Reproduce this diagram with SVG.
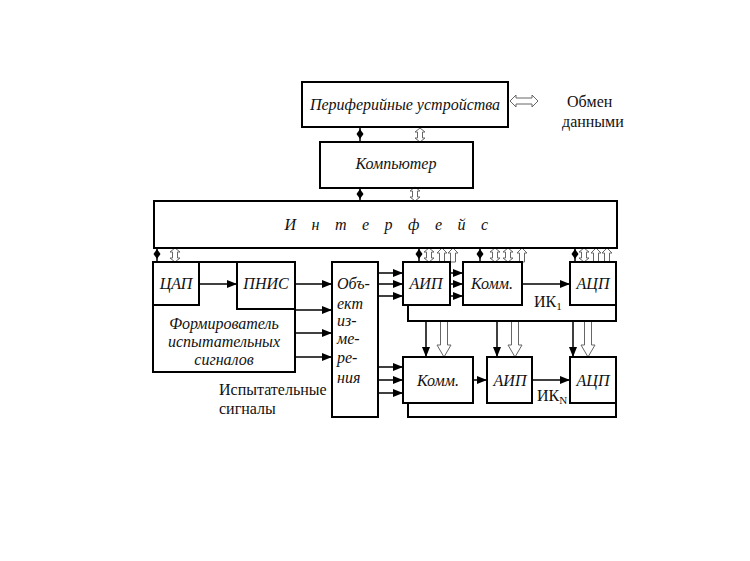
<svg xmlns="http://www.w3.org/2000/svg" width="750" height="561" viewBox="0 0 750 561">
<style>
.b{fill:none;stroke:#000;stroke-width:2}
.t{font-family:'Liberation Serif','Times New Roman','DejaVu Serif',serif;font-style:italic;font-size:16px;fill:#111;text-anchor:middle}
.n{font-family:'Liberation Serif','Times New Roman','DejaVu Serif',serif;font-size:16px;fill:#111}
.l{stroke:#000;stroke-width:1.5;fill:none}
.h{fill:#fff;stroke:#666;stroke-width:1}
.d{fill:#000}
</style>
<defs>
<marker id="a" markerWidth="10" markerHeight="8" refX="9" refY="4" orient="auto" markerUnits="userSpaceOnUse">
<path d="M0,0 L10,4 L0,8 Z" fill="#000"/>
</marker>
<g id="dbl"><path class="h" d="M0,0 L5,4 L2.5,4 L2.5,10 L5,10 L0,14 L-5,10 L-2.5,10 L-2.5,4 L-5,4 Z"/></g>
<g id="up"><path class="h" d="M0,0 L5,5 L2.5,5 L2.5,14 L-2.5,14 L-2.5,5 L-5,5 Z"/></g>
<g id="dia"><line x1="0" y1="0" x2="0" y2="14" stroke="#000" stroke-width="1.5"/><path class="d" d="M0,1 L3.5,6 L0,11 L-3.5,6 Z"/></g>
<g id="dn"><path class="h" d="M-3.5,0 L3.5,0 L3.5,24 L7,24 L0,36 L-7,24 L-3.5,24 Z"/></g>
</defs>
<rect width="750" height="561" fill="#fff"/>

<g id="connectors">
<use href="#dia" x="360" y="128"/>
<use href="#dbl" x="420" y="128"/>
<use href="#dia" x="360" y="188"/>
<use href="#dbl" x="415" y="187"/>
<path class="h" d="M510,101 L516,95 L516,98 L532,98 L532,95 L538,101 L532,107 L532,104 L516,104 L516,107 Z"/>
<use href="#dia" x="157" y="248"/>
<use href="#dbl" x="175" y="248"/>
<use href="#dia" x="419" y="248"/>
<use href="#dbl" x="429" y="248"/>
<use href="#up" x="442" y="248"/>
<use href="#up" x="453" y="248"/>
<use href="#dia" x="480" y="248"/>
<use href="#dbl" x="495" y="248"/>
<use href="#dbl" x="508" y="248"/>
<use href="#up" x="522" y="248"/>
<use href="#dia" x="575" y="248"/>
<use href="#dbl" x="584" y="248"/>
<use href="#up" x="596" y="248"/>
<use href="#up" x="607" y="248"/>
<line class="l" x1="200" y1="284" x2="236" y2="284" marker-end="url(#a)"/>
<line class="l" x1="295" y1="284" x2="331" y2="284" marker-end="url(#a)"/>
<line class="l" x1="295" y1="310" x2="331" y2="310" marker-end="url(#a)"/>
<line class="l" x1="295" y1="333" x2="331" y2="333" marker-end="url(#a)"/>
<line class="l" x1="295" y1="357" x2="331" y2="357" marker-end="url(#a)"/>
<line class="l" x1="379" y1="273" x2="402" y2="273" marker-end="url(#a)"/>
<line class="l" x1="379" y1="284" x2="402" y2="284" marker-end="url(#a)"/>
<line class="l" x1="379" y1="296" x2="402" y2="296" marker-end="url(#a)"/>
<line class="l" x1="450" y1="273" x2="462" y2="273" marker-end="url(#a)"/>
<line class="l" x1="450" y1="284" x2="462" y2="284" marker-end="url(#a)"/>
<line class="l" x1="450" y1="296" x2="462" y2="296" marker-end="url(#a)"/>
<line class="l" x1="522" y1="284" x2="569" y2="284" marker-end="url(#a)"/>
<line class="l" x1="379" y1="367" x2="402" y2="367" marker-end="url(#a)"/>
<line class="l" x1="379" y1="380" x2="402" y2="380" marker-end="url(#a)"/>
<line class="l" x1="379" y1="393" x2="402" y2="393" marker-end="url(#a)"/>
<line class="l" x1="473" y1="380" x2="486" y2="380" marker-end="url(#a)"/>
<line class="l" x1="532" y1="380" x2="569" y2="380" marker-end="url(#a)"/>
<line class="l" x1="426" y1="321" x2="426" y2="356" marker-end="url(#a)"/>
<line class="l" x1="497" y1="321" x2="497" y2="356" marker-end="url(#a)"/>
<line class="l" x1="573" y1="321" x2="573" y2="356" marker-end="url(#a)"/>
<use href="#dn" x="444" y="321"/>
<use href="#dn" x="515" y="321"/>
<use href="#dn" x="588" y="321"/>
</g>

<g id="periph"><rect class="b" x="302" y="82" width="206" height="45"/><text class="t" x="405" y="110">Периферийные устройства</text></g>
<g id="exchange"><text class="n" x="567" y="107">Обмен</text><text class="n" x="562" y="127">данными</text></g>
<g id="computer"><rect class="b" x="320" y="142" width="153" height="46"/><text class="t" x="396" y="169">Компьютер</text></g>
<g id="interface"><rect class="b" x="154" y="201" width="463" height="47"/><text class="t" x="394" y="230" letter-spacing="15.5">Интерфейс</text></g>
<g id="former"><rect class="b" x="153" y="262" width="142" height="110"/>
<text class="t" x="224" y="329">Формирователь</text><text class="t" x="224" y="347">испытательных</text><text class="t" x="224" y="365">сигналов</text></g>
<g id="dac"><rect class="b" x="153" y="262" width="46" height="43"/><text class="t" x="176" y="289">ЦАП</text></g>
<g id="pnis"><rect class="b" x="237" y="262" width="58" height="47"/><text class="t" x="266" y="289">ПНИС</text></g>
<g id="testsig"><text class="n" x="219" y="395">Испытательные</text><text class="n" x="219" y="414">сигналы</text></g>
<g id="object"><rect class="b" x="332" y="262" width="46" height="155"/>
<text class="t" x="337" y="289" style="text-anchor:start">Объ-</text>
<text class="t" x="337" y="309" style="text-anchor:start">ект</text>
<text class="t" x="337" y="326" style="text-anchor:start">из-</text>
<text class="t" x="337" y="344" style="text-anchor:start">ме-</text>
<text class="t" x="337" y="363" style="text-anchor:start">ре-</text>
<text class="t" x="337" y="383" style="text-anchor:start">ния</text></g>
<g id="ik1"><polyline class="b" points="408,305 408,321 616,321 616,305"/>
<text class="n" x="534" y="307">ИК<tspan font-size="11" dy="3">1</tspan></text></g>
<g id="aip1"><rect class="b" x="403" y="262" width="47" height="43"/><text class="t" x="426" y="289">АИП</text></g>
<g id="komm1"><rect class="b" x="463" y="262" width="59" height="43"/><text class="t" x="492" y="289">Комм.</text></g>
<g id="adc1"><rect class="b" x="570" y="262" width="46" height="43"/><text class="t" x="593" y="289">АЦП</text></g>
<g id="ikn"><polyline class="b" points="408,403 408,417 616,417 616,403"/>
<text class="n" x="537" y="401">ИК<tspan font-size="11" dy="3">N</tspan></text></g>
<g id="komm2"><rect class="b" x="403" y="357" width="70" height="46"/><text class="t" x="438" y="386">Комм.</text></g>
<g id="aip2"><rect class="b" x="487" y="357" width="45" height="46"/><text class="t" x="510" y="386">АИП</text></g>
<g id="adc2"><rect class="b" x="570" y="357" width="46" height="46"/><text class="t" x="593" y="386">АЦП</text></g>
</svg>
